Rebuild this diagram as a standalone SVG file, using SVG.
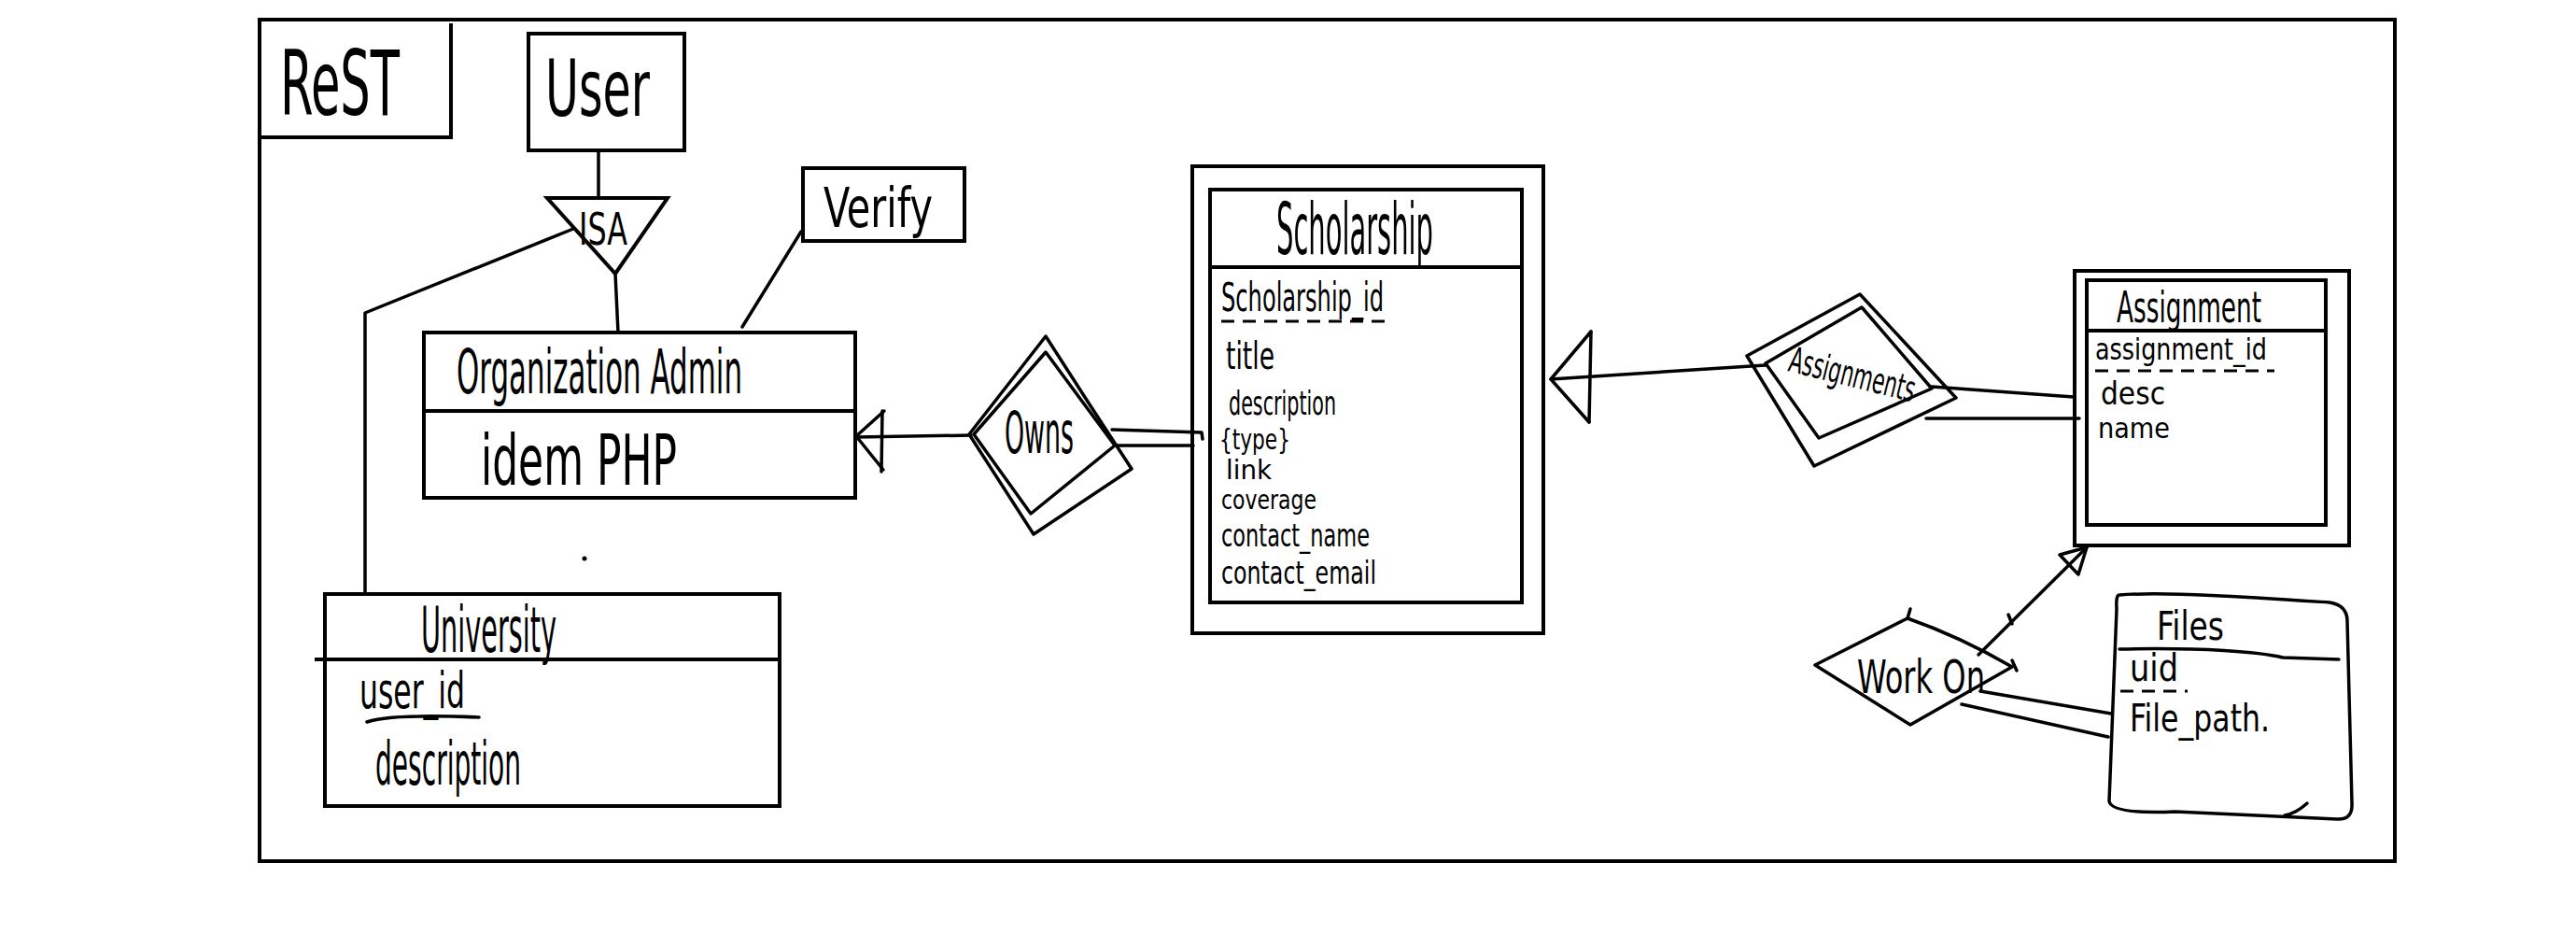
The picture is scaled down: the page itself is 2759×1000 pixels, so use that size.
<svg xmlns="http://www.w3.org/2000/svg" width="2759" height="1000" viewBox="0 0 2759 1000">
  <style>
    .ln { fill: none; stroke: #000; stroke-width: 3.5; stroke-linecap: round; stroke-linejoin: round; }
    .bx { fill: none; stroke: #000; stroke-width: 4; stroke-linejoin: miter; }
    .dash { fill: none; stroke: #000; stroke-width: 3; stroke-dasharray: 14 9; }
    .hw { font-family: "Liberation Sans Narrow", "DejaVu Sans Condensed", "Liberation Sans", sans-serif; fill: #000; }
  </style>
  <rect width="2759" height="1000" fill="#fff"/>

  <!-- outer schema frame -->
  <g id="frame">
    <rect class="bx" x="278" y="21" width="2287" height="901"/>
  </g>

  <!-- schema label -->
  <g id="rest">
    <path class="bx" d="M483,25 L483,147 L280,147"/>
    <text class="hw" x="300" y="123" font-size="96" textLength="128" lengthAdjust="spacingAndGlyphs">ReST</text>
  </g>

  <g id="user">
    <rect class="bx" x="566" y="36" width="167" height="125"/>
    <text class="hw" x="584" y="124" font-size="84" textLength="112" lengthAdjust="spacingAndGlyphs">User</text>
  </g>

  <g id="isa">
    <polygon class="bx" points="586,212 715,212 659,293"/>
    <text class="hw" x="620" y="262" font-size="48" textLength="52" lengthAdjust="spacingAndGlyphs">ISA</text>
  </g>

  <g id="verify">
    <rect class="bx" x="860" y="180" width="173" height="78"/>
    <text class="hw" x="882" y="243" font-size="58" textLength="117" lengthAdjust="spacingAndGlyphs">Verify</text>
  </g>

  <g id="organization-admin">
    <rect class="bx" x="454" y="356" width="462" height="177"/>
    <line class="bx" x1="454" y1="440" x2="916" y2="440"/>
    <text class="hw" x="489" y="421" font-size="66" textLength="306" lengthAdjust="spacingAndGlyphs">Organization  Admin</text>
    <text class="hw" x="515" y="519" font-size="74" textLength="210" lengthAdjust="spacingAndGlyphs">idem  PHP</text>
  </g>

  <g id="university">
    <rect class="bx" x="348" y="636" width="487" height="227"/>
    <line class="bx" x1="337" y1="706" x2="835" y2="706"/>
    <text class="hw" x="451" y="698" font-size="68" textLength="145" lengthAdjust="spacingAndGlyphs">University</text>
    <text class="hw" x="385" y="758" font-size="54" textLength="113" lengthAdjust="spacingAndGlyphs">user_id</text>
    <path class="ln" d="M393,773 Q420,764 513,768"/>
    <text class="hw" x="402" y="840" font-size="64" textLength="156" lengthAdjust="spacingAndGlyphs">description</text>
  </g>

  <g id="owns">
    <polygon class="ln" points="1120,360 1165,430 1212,502 1107,572 1038,465"/>
    <polygon class="ln" points="1120,377 1194,477 1104,550 1043,465"/>
    <text class="hw" x="1076" y="485" font-size="62" textLength="74" lengthAdjust="spacingAndGlyphs">Owns</text>
  </g>

  <g id="scholarship">
    <rect class="bx" x="1277" y="178" width="376" height="500"/>
    <rect class="bx" x="1296" y="203" width="334" height="442"/>
    <line class="bx" x1="1296" y1="286" x2="1630" y2="286"/>
    <text class="hw" x="1367" y="272" font-size="76" textLength="168" lengthAdjust="spacingAndGlyphs">Scholarship</text>
    <text class="hw" x="1308" y="333" font-size="42" textLength="174" lengthAdjust="spacingAndGlyphs">Scholarship_id</text>
    <line class="dash" x1="1308" y1="344" x2="1487" y2="344"/>
    <text class="hw" x="1313" y="395" font-size="40" textLength="52" lengthAdjust="spacingAndGlyphs">title</text>
    <text class="hw" x="1316" y="444" font-size="36" textLength="115" lengthAdjust="spacingAndGlyphs">description</text>
    <text class="hw" x="1306" y="481" font-size="30" textLength="76" lengthAdjust="spacingAndGlyphs">{type}</text>
    <text class="hw" x="1313" y="513" font-size="28" textLength="49" lengthAdjust="spacingAndGlyphs">link</text>
    <text class="hw" x="1308" y="545" font-size="28" textLength="102" lengthAdjust="spacingAndGlyphs">coverage</text>
    <text class="hw" x="1308" y="585" font-size="34" textLength="159" lengthAdjust="spacingAndGlyphs">contact_name</text>
    <text class="hw" x="1308" y="625" font-size="34" textLength="166" lengthAdjust="spacingAndGlyphs">contact_email</text>
  </g>

  <g id="assignments">
    <polygon class="ln" points="1992,315 2095,426 1943,499 1871,381"/>
    <polygon class="ln" points="1994,329 2069,416 1948,469 1891,389"/>
    <text class="hw" x="0" y="0" font-size="38" textLength="138" lengthAdjust="spacingAndGlyphs" transform="translate(1914,397) rotate(14)">Assignments</text>
  </g>

  <g id="assignment">
    <rect class="bx" x="2222" y="290" width="294" height="294"/>
    <rect class="bx" x="2235" y="300" width="256" height="262"/>
    <line class="bx" x1="2235" y1="354" x2="2491" y2="354"/>
    <text class="hw" x="2267" y="345" font-size="46" textLength="155" lengthAdjust="spacingAndGlyphs">Assignment</text>
    <text class="hw" x="2244" y="385" font-size="32" textLength="184" lengthAdjust="spacingAndGlyphs">assignment_id</text>
    <line class="dash" x1="2244" y1="397" x2="2436" y2="397" stroke-dasharray="9 8"/>
    <text class="hw" x="2250" y="433" font-size="34" textLength="69" lengthAdjust="spacingAndGlyphs">desc</text>
    <text class="hw" x="2247" y="469" font-size="30" textLength="77" lengthAdjust="spacingAndGlyphs">name</text>
  </g>

  <g id="work-on">
    <path class="ln" d="M1944,712 L2043,662 Q2100,682 2155,714 L2046,776 Z"/>
    <path class="ln" d="M2043,662 L2046,652"/>
    <path class="ln" d="M2155,707 L2160,718"/>
    <text class="hw" x="1989" y="742" font-size="50" textLength="137" lengthAdjust="spacingAndGlyphs">Work On</text>
  </g>

  <g id="files">
    <path class="ln" d="M2270,637 C2320,633 2420,640 2495,645 Q2514,648 2514,665 L2519,860 Q2520,878 2503,877 L2330,869 Q2262,872 2259,858 L2267,652 Q2266,637 2270,637 Z"/>
    <path class="ln" d="M2270,695 C2360,693 2420,698 2445,704 L2505,706"/>
    <path class="ln" d="M2447,873 Q2459,871 2471,860"/>
    <text class="hw" x="2310" y="685" font-size="42" textLength="72" lengthAdjust="spacingAndGlyphs">Files</text>
    <text class="hw" x="2281" y="729" font-size="40" textLength="52" lengthAdjust="spacingAndGlyphs">uid</text>
    <line class="dash" x1="2271" y1="740" x2="2343" y2="740" stroke-dasharray="10 10"/>
    <text class="hw" x="2281" y="783" font-size="40" textLength="150" lengthAdjust="spacingAndGlyphs">File_path.</text>
  </g>

  <!-- stray pen dot -->
  <circle cx="626" cy="598" r="2.5" fill="#000"/>

  <g id="connectors">
    <!-- User to ISA -->
    <path class="ln" d="M641,161 L641,212"/>
    <!-- ISA to University -->
    <path class="ln" d="M614,245 L391,335 L391,636"/>
    <!-- ISA to Organization Admin -->
    <path class="ln" d="M659,293 L662,356"/>
    <!-- Verify to Organization Admin -->
    <path class="ln" d="M858,248 L795,350"/>
    <!-- Owns to Organization Admin with arrowhead -->
    <path class="ln" d="M1040,466 L917,468"/>
    <path class="ln" d="M947,440 L917,467 L946,503"/>
    <path class="ln" d="M945,440 L944,505"/>
    <!-- Owns to Scholarship (double line) -->
    <path class="ln" d="M1191,460 L1287,463 L1288,470"/>
    <path class="ln" d="M1196,477 L1278,477"/>
    <!-- Assignments to Scholarship with arrowhead -->
    <path class="ln" d="M1891,391 L1661,406"/>
    <path class="ln" d="M1704,355 L1661,406 L1702,452"/>
    <path class="ln" d="M1704,355 L1702,452"/>
    <!-- Assignments to Assignment (double line) -->
    <path class="ln" d="M2069,414 L2221,425"/>
    <path class="ln" d="M2063,448 L2227,448"/>
    <!-- Work On to Assignment with arrowhead -->
    <path class="ln" d="M2119,701 L2235,586"/>
    <path class="ln" d="M2235,586 L2206,594 M2235,586 L2226,615 M2206,594 L2226,615"/>
    <path class="ln" d="M2151,658 L2155,668"/>
    <!-- Work On to Files (double line) -->
    <path class="ln" d="M2121,740 L2261,764"/>
    <path class="ln" d="M2101,754 L2258,789"/>
  </g>
</svg>
